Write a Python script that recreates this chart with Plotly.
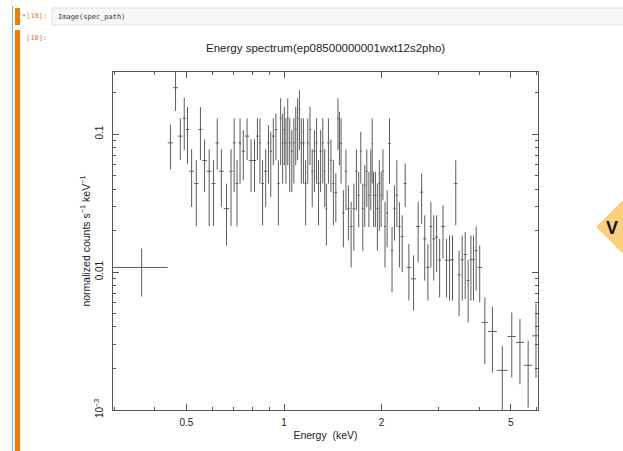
import plotly.graph_objects as go
import numpy as np

# ---------------- data ----------------
energy_edges = [
    0.29, 0.438, 0.455, 0.471, 0.487, 0.498, 0.510, 0.528, 0.545, 0.560,
    0.578, 0.598, 0.615, 0.630, 0.652, 0.678, 0.695, 0.709, 0.724, 0.740,
    0.758, 0.781, 0.802, 0.820, 0.836, 0.850, 0.868, 0.888, 0.903, 0.918,
    0.936, 0.953, 0.969, 0.984, 0.997, 1.008, 1.020, 1.034, 1.049, 1.065,
    1.080, 1.094, 1.109, 1.123, 1.139, 1.157, 1.175, 1.193, 1.213, 1.231,
    1.251, 1.269, 1.287, 1.307, 1.327, 1.343, 1.359, 1.383, 1.408, 1.432,
    1.458, 1.476, 1.489, 1.510, 1.539, 1.566, 1.594, 1.627, 1.658, 1.686,
    1.713, 1.737, 1.762, 1.787, 1.813, 1.841, 1.863, 1.878, 1.900, 1.927,
    1.954, 1.981, 2.005, 2.033, 2.064, 2.096, 2.134, 2.173, 2.209, 2.248,
    2.291, 2.338, 2.391, 2.463, 2.555, 2.629, 2.685, 2.747, 2.809, 2.866,
    2.924, 2.987, 3.051, 3.133, 3.208, 3.272, 3.344, 3.426, 3.506, 3.581,
    3.659, 3.734, 3.805, 3.873, 3.952, 4.074, 4.251, 4.533, 4.890, 5.188,
    5.492, 5.828, 6.14,
]

rate = [
    0.0108, 0.0864, 0.217, 0.0967, 0.130, 0.108, 0.0538, 0.0438, 0.108, 0.0644,
    0.0538, 0.0438, 0.0864, 0.0538, 0.0288, 0.0538, 0.0864, 0.0438, 0.0864, 0.0752,
    0.0967, 0.0644, 0.0644, 0.0967, 0.0864, 0.0438, 0.0538, 0.0864, 0.0752, 0.0967,
    0.108, 0.0438, 0.130, 0.0864, 0.108, 0.0864, 0.130, 0.0864, 0.0752, 0.0864,
    0.108, 0.130, 0.151, 0.0864, 0.0864, 0.0438, 0.0864, 0.108, 0.0538, 0.0752,
    0.0864, 0.0438, 0.0752, 0.0864, 0.0538, 0.0288, 0.0864, 0.0647, 0.0438, 0.0377,
    0.130, 0.107, 0.0856, 0.0268, 0.0538, 0.0288, 0.0214, 0.0288, 0.0538, 0.0360,
    0.0752, 0.0288, 0.0426, 0.0538, 0.0360, 0.0538, 0.0856, 0.0360, 0.0360, 0.0288,
    0.0438, 0.0360, 0.0538, 0.0214, 0.0268, 0.0856, 0.0143, 0.0288, 0.0360, 0.0214,
    0.0181, 0.0438, 0.0108, 0.00893, 0.0214, 0.0380, 0.0174, 0.0108, 0.0214, 0.0174,
    0.0179, 0.0122, 0.0214, 0.0122, 0.0122, 0.0123, 0.0438, 0.00954, 0.0123, 0.0134,
    0.00867, 0.0123, 0.0123, 0.0143, 0.0108, 0.00431, 0.00371, 0.00194, 0.00341, 0.00309,
    0.00211, 0.00345,
]

rate_upper = [
    0.0148, 0.117, 0.284, 0.130, 0.184, 0.157, 0.0778, 0.0647, 0.157, 0.0915,
    0.0778, 0.0647, 0.130, 0.0778, 0.0438, 0.0778, 0.130, 0.0647, 0.130, 0.107,
    0.130, 0.0915, 0.0915, 0.130, 0.130, 0.0647, 0.0778, 0.116, 0.104, 0.130,
    0.141, 0.0647, 0.182, 0.141, 0.158, 0.130, 0.182, 0.130, 0.107, 0.130,
    0.158, 0.182, 0.209, 0.130, 0.130, 0.0647, 0.130, 0.158, 0.0778, 0.107,
    0.130, 0.0647, 0.107, 0.130, 0.0778, 0.0438, 0.130, 0.0915, 0.0647, 0.0520,
    0.182, 0.145, 0.130, 0.0392, 0.0774, 0.0426, 0.0322, 0.0438, 0.0774, 0.0532,
    0.104, 0.0438, 0.0595, 0.0774, 0.0532, 0.0774, 0.130, 0.0532, 0.0532, 0.0438,
    0.0647, 0.0532, 0.0774, 0.0322, 0.0392, 0.130, 0.0212, 0.0426, 0.0647, 0.0322,
    0.0258, 0.0612, 0.0160, 0.0132, 0.0322, 0.0518, 0.0258, 0.0160, 0.0322, 0.0258,
    0.0258, 0.0174, 0.0305, 0.0174, 0.0184, 0.0184, 0.0647, 0.0143, 0.0184, 0.0195,
    0.0122, 0.0184, 0.0184, 0.0214, 0.0156, 0.00656, 0.00561, 0.00292, 0.00510, 0.00457,
    0.00318, 0.00590,
]

rate_lower = [
    0.00664, 0.0553, 0.147, 0.0647, 0.0765, 0.0605, 0.0296, 0.0215, 0.0647, 0.0380,
    0.0215, 0.0215, 0.0553, 0.0296, 0.0156, 0.0215, 0.0380, 0.0215, 0.0438, 0.0463,
    0.0647, 0.0380, 0.0380, 0.0647, 0.0438, 0.0218, 0.0296, 0.0438, 0.0350, 0.0595,
    0.0647, 0.0218, 0.0595, 0.0438, 0.0595, 0.0438, 0.0595, 0.0380, 0.0380, 0.0438,
    0.0595, 0.0647, 0.0765, 0.0438, 0.0438, 0.0218, 0.0438, 0.0595, 0.0296, 0.0380,
    0.0438, 0.0218, 0.0380, 0.0438, 0.0296, 0.0156, 0.0438, 0.0380, 0.0218, 0.0230,
    0.0765, 0.0595, 0.0438, 0.0151, 0.0280, 0.0169, 0.0108, 0.0143, 0.0280, 0.0212,
    0.0438, 0.0143, 0.0212, 0.0296, 0.0212, 0.0280, 0.0438, 0.0212, 0.0212, 0.0143,
    0.0200, 0.0212, 0.0331, 0.0108, 0.0151, 0.0438, 0.00713, 0.0169, 0.0212, 0.0108,
    0.00997, 0.0296, 0.00621, 0.00525, 0.0118, 0.0224, 0.00867, 0.00621, 0.0108, 0.00867,
    0.00997, 0.00656, 0.0125, 0.00656, 0.00621, 0.00621, 0.0218, 0.00477, 0.00621, 0.00638,
    0.00431, 0.00621, 0.00621, 0.00734, 0.00603, 0.00215, 0.00187, 0.0008, 0.00172, 0.00154,
    0.00104, 0.00171,
]

x_tick_vals = [0.5, 1, 2, 5]
x_tick_text = ["0.5", "1", "2", "5"]
x_minor_vals = [0.3, 0.4, 0.6, 0.7, 0.8, 0.9, 3, 4, 6]
y_tick_vals = [0.001, 0.01, 0.1]
y_tick_text = ["10<sup>\u22123</sup>", "0.01", "0.1"]
y_minor_vals = [m * d for d in (0.001, 0.01, 0.1) for m in range(2, 10) if m * d < 0.29]

title_text = "Energy spectrum(ep08500000001wxt12s2pho)"
x_title = "Energy  (keV)"
y_title = "normalized counts s<sup>\u22121</sup> keV<sup>\u22121</sup>"

# ---------------- derived ----------------
edges = np.array(energy_edges)
lo_e, hi_e = edges[:-1], edges[1:]
centers = (lo_e + hi_e) / 2
r = np.array(rate)
ru = np.array(rate_upper)
rl = np.array(rate_lower)

W, H = 623, 451
L, R, T, B = 113, 538, 72, 410


def px(xp):
    return (xp - L) / (R - L)


def py(yp):
    return (B - yp) / (B - T)


fig = go.Figure()
line_col = "#5c5c5c"
fig.add_trace(go.Scatter(
    x=centers, y=r, mode="markers",
    marker=dict(size=1, color="rgba(0,0,0,0)"),
    error_x=dict(type="data", symmetric=False, array=hi_e - centers,
                 arrayminus=centers - lo_e, width=0, thickness=1, color=line_col),
    error_y=dict(type="data", symmetric=False, array=ru - r,
                 arrayminus=r - rl, width=0, thickness=1, color=line_col),
    showlegend=False, hoverinfo="skip",
))

font = "Liberation Sans, Arial, sans-serif"
axis_col = "#555555"

fig.update_xaxes(
    type="log", range=[np.log10(0.297), np.log10(6.07)],
    showgrid=False, zeroline=False,
    showline=True, linecolor=axis_col, linewidth=1, mirror="allticks",
    ticks="inside", ticklen=6, tickcolor=axis_col, tickwidth=1,
    tickvals=x_tick_vals, ticktext=x_tick_text, ticklabelstandoff=3,
    tickfont=dict(family=font, size=10, color="#222"),
    minor=dict(tickvals=x_minor_vals, ticks="inside", ticklen=3,
               tickcolor=axis_col, showgrid=False),
    title=dict(text=x_title, font=dict(family=font, size=10.5, color="#222"), standoff=4),
)
fig.update_yaxes(
    type="log", range=[-3, np.log10(0.282)],
    showgrid=False, zeroline=False,
    showline=True, linecolor=axis_col, linewidth=1, mirror="allticks",
    ticks="inside", ticklen=6, tickcolor=axis_col, tickwidth=1,
    tickvals=y_tick_vals, ticktext=y_tick_text, tickangle=-90, ticklabelstandoff=5,
    tickfont=dict(family=font, size=10, color="#222"),
    minor=dict(tickvals=y_minor_vals, ticks="inside", ticklen=3,
               tickcolor=axis_col, showgrid=False),
    title=dict(text=y_title, font=dict(family=font, size=10.5, color="#222"), standoff=0),
)

shapes = []
# notebook chrome
shapes.append(dict(type="line", xref="paper", yref="paper",
                   x0=px(12.5), x1=px(12.5), y0=py(6), y1=py(452),
                   line=dict(color="#64b5f6", width=1)))
shapes.append(dict(type="rect", xref="paper", yref="paper",
                   x0=px(15), x1=px(20), y0=py(8), y1=py(25),
                   fillcolor="#f57c00", line=dict(width=0)))
shapes.append(dict(type="rect", xref="paper", yref="paper",
                   x0=px(15), x1=px(20), y0=py(30), y1=py(452),
                   fillcolor="#f57c00", line=dict(width=0)))
shapes.append(dict(type="rect", xref="paper", yref="paper",
                   x0=px(52), x1=px(630), y0=py(8), y1=py(25),
                   fillcolor="#f7f7f7", line=dict(color="#e0e0e0", width=1)))
# yellow diamond at right edge
dcx, dcy, dh = 640, 227, 43
shapes.append(dict(type="path", xref="paper", yref="paper",
                   path=f"M {px(dcx-dh)},{py(dcy)} L {px(dcx)},{py(dcy-dh)} "
                        f"L {px(dcx+dh)},{py(dcy)} L {px(dcx)},{py(dcy+dh)} Z",
                   fillcolor="#fdd17c", line=dict(color="#f5c242", width=1)))

annotations = [
    dict(text="\u2022[18]:", x=px(49), y=py(16), xref="paper", yref="paper",
         xanchor="right", yanchor="middle", showarrow=False,
         font=dict(family="DejaVu Sans Mono, monospace", size=7, color="#e0763a")),
    dict(text="[18]:", x=px(49), y=py(38), xref="paper", yref="paper",
         xanchor="right", yanchor="middle", showarrow=False,
         font=dict(family="DejaVu Sans Mono, monospace", size=7, color="#e0763a")),
    dict(text="Image(spec_path)", x=px(56), y=py(16.5), xref="paper", yref="paper",
         xanchor="left", yanchor="middle", showarrow=False,
         font=dict(family="DejaVu Sans Mono, monospace", size=7, color="#333")),
    dict(text=title_text, x=px(325.5), y=py(48), xref="paper", yref="paper",
         xanchor="center", yanchor="middle", showarrow=False,
         font=dict(family=font, size=11.5, color="#222")),
    dict(text="<b>V</b>", x=px(604), y=py(228), xref="paper", yref="paper",
         xanchor="left", yanchor="middle", showarrow=False,
         font=dict(family=font, size=18, color="#111")),
]

fig.update_layout(
    width=W, height=H,
    margin=dict(l=L, r=W - R, t=T, b=H - B, pad=0),
    paper_bgcolor="white", plot_bgcolor="white",
    shapes=shapes, annotations=annotations,
)

fig.write_html("out.html", config={"displayModeBar": False},
               post_script="document.body.style.margin='0';document.body.style.overflow='hidden';")
